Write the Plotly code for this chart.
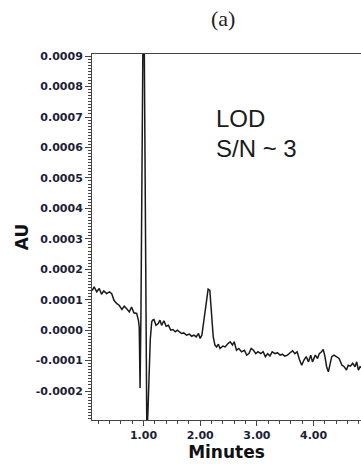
import plotly.graph_objects as go

# Retention time (min) and detector response (AU) of the chromatogram
minutes = [
    0.095, 0.13, 0.175, 0.22, 0.26, 0.30, 0.35, 0.40, 0.44, 0.48, 0.53, 0.57,
    0.62, 0.66, 0.70, 0.75, 0.79, 0.83, 0.88, 0.91, 0.925, 0.94, 0.955, 0.97,
    0.985, 1.00, 1.015, 1.03, 1.045, 1.06, 1.08, 1.10, 1.12, 1.145, 1.16, 1.185,
    1.22, 1.26, 1.29, 1.32, 1.36, 1.40, 1.44, 1.48, 1.52, 1.56, 1.60, 1.63,
    1.67, 1.71, 1.76, 1.81, 1.85, 1.89, 1.93, 1.97, 2.00, 2.03, 2.05, 2.08,
    2.11, 2.14, 2.17, 2.19, 2.21, 2.23, 2.26, 2.29, 2.32, 2.35, 2.40, 2.44,
    2.49, 2.53, 2.57, 2.60, 2.64, 2.68, 2.73, 2.78, 2.82, 2.86, 2.90, 2.94,
    2.98, 3.02, 3.07, 3.11, 3.15, 3.19, 3.23, 3.27, 3.32, 3.36, 3.41, 3.45,
    3.49, 3.54, 3.58, 3.63, 3.67, 3.71, 3.75, 3.79, 3.83, 3.87, 3.91, 3.95,
    3.98, 4.03, 4.07, 4.10, 4.14, 4.17, 4.20, 4.23, 4.26, 4.29, 4.32, 4.36,
    4.41, 4.45, 4.50, 4.54, 4.58, 4.61, 4.65, 4.69, 4.73, 4.76, 4.79, 4.82,
    4.86,
]
absorbance = [
    0.000130, 0.000142, 0.000126, 0.000137, 0.000118, 0.000129, 0.000120,
    0.000126, 0.000120, 0.000098, 0.000087, 0.000082, 0.000068, 0.000079,
    0.000071, 0.000060, 0.000076, 0.000057, 0.000055, 0.000033, 0.000010,
    -0.000190, 0.000050, 0.000450, 0.000850, 0.001200, 0.000900, 0.000400,
    -0.000050, -0.000360, -0.000260, -0.000120, -0.000030, 0.000027,
    0.000033, 0.000035, 0.000016, 0.000022, 0.000033, 0.000016, 0.000031,
    0.000013, 0.000016, 0.000000, 0.000002, -0.000005, 0.000000, -0.000005,
    -0.000011, -0.000009, -0.000016, -0.000013, -0.000020, -0.000016,
    -0.000022, -0.000011, -0.000027, -0.000016, 0.000011, 0.000055,
    0.000098, 0.000135, 0.000131, 0.000087, 0.000033, -0.000022, -0.000049,
    -0.000055, -0.000046, -0.000060, -0.000052, -0.000055, -0.000044,
    -0.000038, -0.000049, -0.000038, -0.000066, -0.000060, -0.000071,
    -0.000066, -0.000082, -0.000077, -0.000060, -0.000066, -0.000077,
    -0.000071, -0.000077, -0.000071, -0.000087, -0.000077, -0.000085,
    -0.000071, -0.000077, -0.000074, -0.000082, -0.000079, -0.000085,
    -0.000082, -0.000075, -0.000068, -0.000077, -0.000071, -0.000096,
    -0.000115, -0.000098, -0.000087, -0.000104, -0.000082, -0.000104,
    -0.000082, -0.000093, -0.000077, -0.000071, -0.000063, -0.000087,
    -0.000120, -0.000137, -0.000115, -0.000087, -0.000082, -0.000087,
    -0.000093, -0.000115, -0.000120, -0.000131, -0.000115, -0.000118,
    -0.000109, -0.000120, -0.000104, -0.000131, -0.000120, -0.000125,
]

x_ticks = [1, 2, 3, 4]
x_tick_labels = ["1.00", "2.00", "3.00", "4.00"]
y_ticks = [-0.0002, -0.0001, 0.0, 0.0001, 0.0002, 0.0003, 0.0004,
           0.0005, 0.0006, 0.0007, 0.0008, 0.0009]
y_tick_labels = ["-0.0002", "-0.0001", "0.0000", "0.0001", "0.0002", "0.0003",
                 "0.0004", "0.0005", "0.0006", "0.0007", "0.0008", "0.0009"]

tick_font = dict(family="DejaVu Sans", size=11, color="#1e1e38", weight="bold")
axis_color = "#444444"

fig = go.Figure()
fig.add_trace(go.Scatter(
    x=minutes, y=absorbance, mode="lines",
    line=dict(color="#1a1a1a", width=1.5),
    showlegend=False, hoverinfo="skip",
))

fig.update_layout(
    width=361, height=464,
    margin=dict(l=92, r=0, t=54, b=44),
    paper_bgcolor="white", plot_bgcolor="white",
    xaxis=dict(
        range=[0.092, 4.836],
        tickvals=x_ticks, ticktext=x_tick_labels,
        ticks="outside", ticklen=5, tickcolor=axis_color, tickwidth=1,
        minor=dict(dtick=0.2, tick0=0, ticks="outside", ticklen=3,
                   tickcolor=axis_color, showgrid=False),
        showline=True, linecolor=axis_color, linewidth=1, mirror=True,
        showgrid=False, zeroline=False,
        tickfont=tick_font,
        title=dict(text="Minutes", standoff=2,
                   font=dict(family="DejaVu Sans", size=17, color="#111111",
                             weight="bold")),
    ),
    yaxis=dict(
        range=[-0.000295, 0.000907],
        tickvals=y_ticks, ticktext=y_tick_labels,
        ticks="outside", ticklen=6, tickcolor=axis_color, tickwidth=1,
        minor=dict(dtick=0.00001, tick0=0, ticks="outside", ticklen=3,
                   tickcolor=axis_color, showgrid=False),
        showline=True, linecolor=axis_color, linewidth=1, mirror=False,
        showgrid=False, zeroline=False,
        tickfont=tick_font,
        title=dict(text="AU", standoff=2,
                   font=dict(family="DejaVu Sans", size=17, color="#111111",
                             weight="bold")),
    ),
    annotations=[
        dict(text="(a)", xref="paper", yref="paper", x=0.487, y=1.0,
             yshift=36, xanchor="center", yanchor="middle", showarrow=False,
             font=dict(family="Liberation Serif", size=22, color="#222222")),
        dict(text="LOD", xref="paper", yref="paper", x=0.454, y=0.823,
             xanchor="left", yanchor="middle", showarrow=False,
             font=dict(family="Liberation Sans", size=24, color="#1a1a1a")),
        dict(text="S/N ~ 3", xref="paper", yref="paper", x=0.454, y=0.743,
             xanchor="left", yanchor="middle", showarrow=False,
             font=dict(family="Liberation Sans", size=24, color="#1a1a1a")),
    ],
)

fig.write_html("out.html")
